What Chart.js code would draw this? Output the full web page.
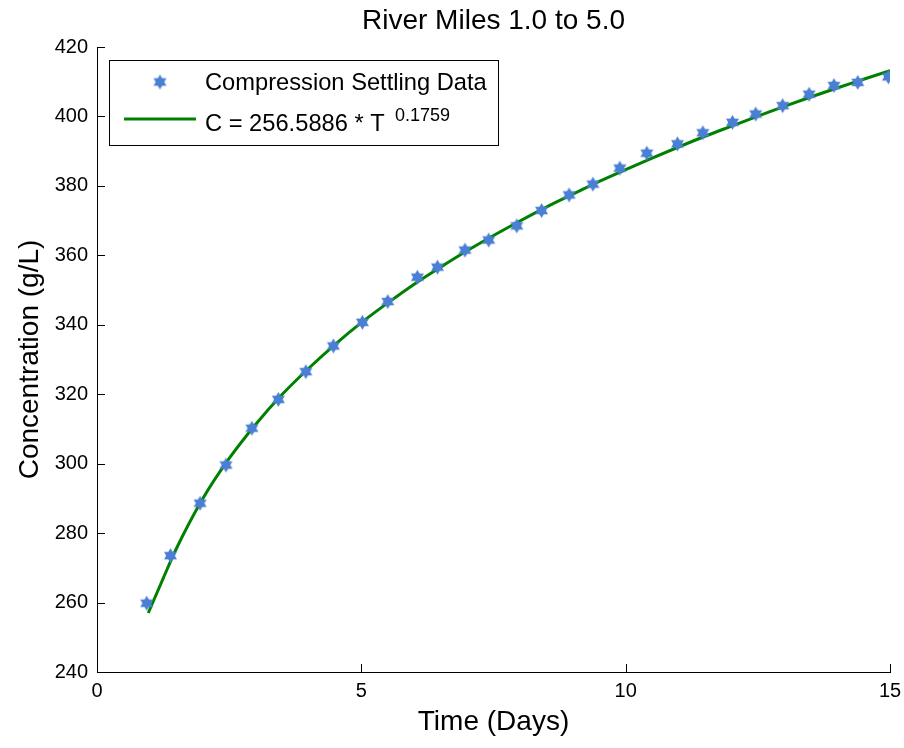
<!DOCTYPE html>
<html>
<head>
<meta charset="utf-8">
<title>River Miles 1.0 to 5.0</title>
<script src="https://cdn.jsdelivr.net/npm/chart.js@4.4.0/dist/chart.umd.min.js"></script>
<style>
    body { margin: 0; background: #fff; }
    #wrap { width: 904px; height: 748px; position: relative; }
</style>
</head>
<body>
<div id="wrap"><canvas id="settlingChart"></canvas></div>
<script>
Chart.defaults.font.family = "'Liberation Sans', Arial, sans-serif";
Chart.defaults.color = "#000";

const dataDays = [0.94, 1.39, 1.95, 2.44, 2.93, 3.43, 3.95, 4.47, 5.02, 5.50,
    6.06, 6.44, 6.96, 7.41, 7.94, 8.41, 8.93, 9.38, 9.89, 10.40,
    10.98, 11.46, 12.02, 12.46, 12.97, 13.47, 13.94, 14.39, 14.97];
const dataConc = [259.8, 273.5, 288.6, 299.6, 310.2, 318.5, 326.5, 333.9, 340.7, 346.7,
    353.7, 356.6, 361.5, 364.4, 368.5, 372.9, 377.4, 380.5, 385.1, 389.4,
    392.1, 395.3, 398.3, 400.7, 403.1, 406.4, 408.9, 409.8, 411.4];

// Fitted curve (green line)
const fitDays = [0.97, 1.25, 1.5, 2, 2.5, 3, 3.5, 4, 4.5, 5, 5.5, 6, 6.5, 7, 7.5,
    8, 8.5, 9, 9.5, 10, 10.5, 11, 11.5, 12, 12.5, 13, 13.5, 14, 14.5, 15];
const fitConc = [257.0, 266.9, 275.5, 289.9, 301.5, 311.3, 319.9, 327.4, 334.3, 340.6,
    346.3, 351.7, 356.6, 361.3, 365.7, 369.9, 373.9, 377.6, 381.3, 384.7,
    388.0, 391.2, 394.3, 397.2, 400.1, 402.9, 405.6, 408.2, 410.7, 413.2];

const xTicks = [0, 5, 10, 15];
const yTicks = [240, 260, 280, 300, 320, 340, 360, 380, 400, 420];

const labels = {
    title: "River Miles 1.0 to 5.0",
    x: "Time (Days)",
    y: "Concentration (g/L)",
    data: "Compression Settling Data",
    fit: "C = 256.5886 * T",
    fitExp: "0.1759",
};

const colors = {
    star: "#4A7FD3",
    fit: "#008000",
    axis: "#000000",
};

// six-pointed star marker, like MATLAB's 'h'exagram
function makeStar(r, color) {
    const c = document.createElement("canvas");
    const s = Math.ceil(r * 2 + 2);
    c.width = s;
    c.height = s;
    const g = c.getContext("2d");
    const cx = s / 2, cy = s / 2;
    g.fillStyle = color;
    [-Math.PI / 2, Math.PI / 2].forEach((a0) => {
        g.beginPath();
        for (let i = 0; i < 3; i++) {
            const a = a0 + i * 2 * Math.PI / 3;
            const px = cx + r * Math.cos(a), py = cy + r * Math.sin(a);
            if (i === 0) g.moveTo(px, py); else g.lineTo(px, py);
        }
        g.closePath();
        g.fill();
    });
    return c;
}
const starImg = makeStar(7.5, colors.star);

const points = dataDays.map((d, i) => ({ x: d, y: dataConc[i] }));
const fitPoints = fitDays.map((d, i) => ({ x: d, y: fitConc[i] }));

// inward ticks, title over plot area, and MATLAB-style legend box
const matlabLook = {
    id: "matlabLook",
    afterDraw(chart) {
        const ctx = chart.ctx;
        const area = chart.chartArea;
        const xs = chart.scales.x, ys = chart.scales.y;
        ctx.save();
        ctx.strokeStyle = colors.axis;
        ctx.lineWidth = 1;
        ctx.beginPath();
        xTicks.forEach((v) => {
            const px = Math.round(xs.getPixelForValue(v)) + 0.5;
            ctx.moveTo(px, area.bottom);
            ctx.lineTo(px, area.bottom - 8);
        });
        yTicks.forEach((v) => {
            const py = Math.round(ys.getPixelForValue(v)) + 0.5;
            ctx.moveTo(area.left, py);
            ctx.lineTo(area.left + 8, py);
        });
        ctx.stroke();

        // title
        ctx.fillStyle = "#000";
        ctx.font = "28px 'Liberation Sans', Arial, sans-serif";
        ctx.textAlign = "center";
        ctx.textBaseline = "middle";
        ctx.fillText(labels.title, (area.left + area.right) / 2, 21);

        // legend
        const lx = 109.5, ly = 60.5, lw = 389, lh = 85;
        ctx.fillStyle = "#fff";
        ctx.fillRect(lx, ly, lw, lh);
        ctx.strokeStyle = "#000";
        ctx.lineWidth = 1;
        ctx.strokeRect(lx, ly, lw, lh);

        ctx.drawImage(starImg, 160 - starImg.width / 2, 82 - starImg.height / 2);
        ctx.strokeStyle = colors.fit;
        ctx.lineWidth = 3;
        ctx.beginPath();
        ctx.moveTo(124, 119);
        ctx.lineTo(196, 119);
        ctx.stroke();

        ctx.fillStyle = "#000";
        ctx.textAlign = "left";
        ctx.textBaseline = "alphabetic";
        ctx.font = "23.7px 'Liberation Sans', Arial, sans-serif";
        ctx.fillText(labels.data, 205, 90);
        ctx.fillText(labels.fit, 205, 131);
        ctx.font = "18px 'Liberation Sans', Arial, sans-serif";
        ctx.fillText(labels.fitExp, 395, 121);
        ctx.restore();
    },
};

const ctx = document.getElementById("settlingChart").getContext("2d");
new Chart(ctx, {
    type: "scatter",
    data: {
        datasets: [
            {
                label: labels.fit,
                data: fitPoints,
                showLine: true,
                borderColor: colors.fit,
                borderWidth: 3,
                pointRadius: 0,
                tension: 0.3,
                cubicInterpolationMode: "monotone",
                order: 2,
            },
            {
                label: labels.data,
                data: points,
                pointStyle: starImg,
                pointRadius: 7,
                order: 1,
            },
        ],
    },
    options: {
        responsive: true,
        maintainAspectRatio: false,
        animation: false,
        layout: {
            padding: { left: 0, right: 14, top: 47, bottom: 0 },
        },
        plugins: {
            legend: { display: false },
            title: { display: false },
            tooltip: { enabled: false },
        },
        scales: {
            x: {
                type: "linear",
                min: 0,
                max: 15,
                afterFit: (s) => {
                    s.height = 76;
                    s.paddingLeft = 0;
                    s.paddingRight = 0;
                },
                afterBuildTicks: (s) => { s.ticks = xTicks.map((v) => ({ value: v })); },
                grid: { display: false, drawTicks: false },
                border: { display: true, color: colors.axis, width: 1 },
                ticks: {
                    padding: 7,
                    font: { size: 20 },
                    maxRotation: 0,
                },
                title: {
                    display: true,
                    text: labels.x,
                    font: { size: 28 },
                    padding: { top: 4, bottom: 9 },
                },
            },
            y: {
                type: "linear",
                min: 240,
                max: 420,
                afterFit: (s) => { s.width = 97; },
                afterBuildTicks: (s) => { s.ticks = yTicks.map((v) => ({ value: v })); },
                grid: { display: false, drawTicks: false },
                border: { display: true, color: colors.axis, width: 1 },
                ticks: {
                    padding: 9,
                    font: { size: 20 },
                },
                title: {
                    display: true,
                    text: labels.y,
                    font: { size: 28 },
                    padding: { top: 13, bottom: 4 },
                },
            },
        },
    },
    plugins: [matlabLook],
});
</script>
</body>
</html>
